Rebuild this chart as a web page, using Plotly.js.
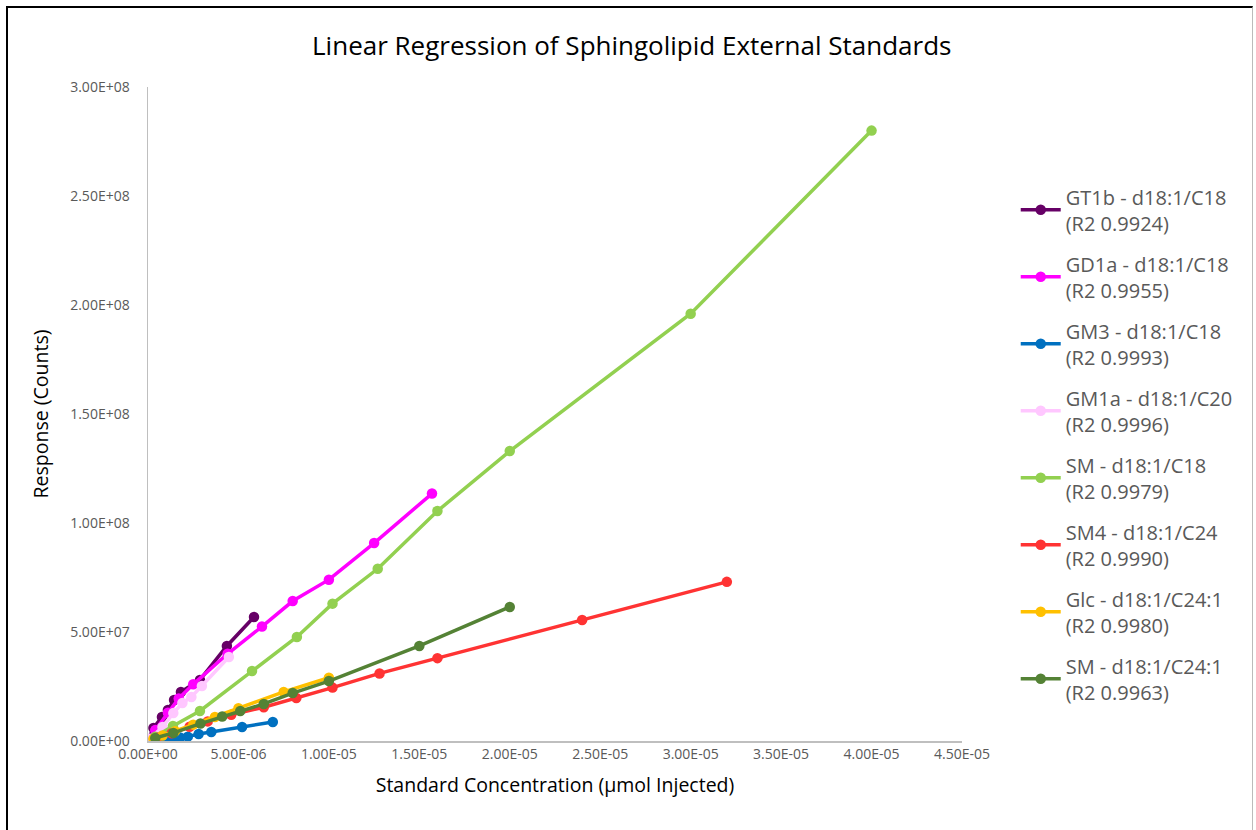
<!DOCTYPE html>
<html>
<head>
<meta charset="utf-8">
<script src="https://cdn.plot.ly/plotly-3.0.1.min.js"></script>
<style>
html,body{margin:0;padding:0;background:#fff;}
#chart{position:absolute;left:0;top:0;width:1256px;height:830px;}
#frame{position:absolute;left:6px;top:6px;width:1244px;height:840px;border:2px solid #000;border-right:1px solid #bbb;pointer-events:none;}
</style>
</head>
<body>
<div id="chart"></div>
<div id="frame"></div>
<script>
// Data
const seriesNames = [
  "GT1b - d18:1/C18<br>(R2 0.9924)",
  "GD1a - d18:1/C18<br>(R2 0.9955)",
  "GM3 - d18:1/C18<br>(R2 0.9993)",
  "GM1a - d18:1/C20<br>(R2 0.9996)",
  "SM - d18:1/C18<br>(R2 0.9979)",
  "SM4 - d18:1/C24<br>(R2 0.9990)",
  "Glc - d18:1/C24:1<br>(R2 0.9980)",
  "SM - d18:1/C24:1<br>(R2 0.9963)"
];
const seriesColors = ["#660066","#FF00FF","#0070C0","#FFC7FF","#92D050","#FF3333","#FFC000","#548235"];

const gt1bX = [0.0e-6, 0.3e-6, 0.77e-6, 1.1e-6, 1.44e-6, 1.82e-6, 2.87e-6, 4.36e-6, 5.86e-6];
const gt1bY = [0.5e6, 6.0e6, 11.0e6, 14.2e6, 18.8e6, 22.5e6, 28.0e6, 43.6e6, 56.9e6];

const gd1aX = [0.0e-6, 0.4e-6, 1.1e-6, 1.7e-6, 2.5e-6, 4.4e-6, 6.3e-6, 8.0e-6, 10.0e-6, 12.5e-6, 15.7e-6];
const gd1aY = [0.5e6, 5.0e6, 13.0e6, 19.5e6, 26.0e6, 40.0e6, 52.5e6, 64.2e6, 74.0e6, 90.8e6, 113.5e6];

const gm3X = [0.2e-6, 0.8e-6, 1.3e-6, 1.77e-6, 2.2e-6, 2.8e-6, 3.5e-6, 5.2e-6, 6.9e-6];
const gm3Y = [0.2e6, 0.5e6, 0.9e6, 1.6e6, 2.0e6, 3.2e6, 4.1e6, 6.4e6, 8.7e6];

const gm1aX = [0.1e-6, 0.8e-6, 1.4e-6, 1.9e-6, 2.4e-6, 2.98e-6, 4.47e-6];
const gm1aY = [1.0e6, 6.4e6, 12.8e6, 17.4e6, 20.2e6, 25.2e6, 38.5e6];

const smC18X = [0.4e-6, 1.38e-6, 2.87e-6, 5.75e-6, 8.23e-6, 10.2e-6, 12.7e-6, 16.0e-6, 20.0e-6, 30.0e-6, 40.0e-6];
const smC18Y = [2.0e6, 6.9e6, 13.8e6, 32.1e6, 47.7e6, 63.0e6, 79.0e6, 105.5e6, 133.0e6, 196.0e6, 280.0e6];

const sm4X = [0.5e-6, 1.3e-6, 2.3e-6, 3.3e-6, 4.6e-6, 6.4e-6, 8.2e-6, 10.2e-6, 12.8e-6, 16.0e-6, 24.0e-6, 32.0e-6];
const sm4Y = [1.5e6, 3.5e6, 6.5e6, 9.0e6, 12.0e6, 15.5e6, 19.7e6, 24.5e6, 31.0e6, 38.0e6, 55.5e6, 73.0e6];

const glcX = [0.3e-6, 0.8e-6, 1.5e-6, 2.5e-6, 3.7e-6, 5.0e-6, 7.5e-6, 10.0e-6];
const glcY = [1.0e6, 2.5e6, 4.5e6, 7.5e6, 11.0e6, 15.0e6, 22.5e6, 29.0e6];

const smC241X = [0.4e-6, 1.4e-6, 2.9e-6, 4.1e-6, 5.1e-6, 6.4e-6, 8.0e-6, 10.0e-6, 15.0e-6, 20.0e-6];
const smC241Y = [1.4e6, 3.7e6, 8.0e6, 11.2e6, 13.8e6, 17.0e6, 22.0e6, 27.5e6, 43.6e6, 61.5e6];

const xTickVals = [0, 5e-6, 1e-5, 1.5e-5, 2e-5, 2.5e-5, 3e-5, 3.5e-5, 4e-5, 4.5e-5];
const xTickText = ["0.00E+00","5.00E-06","1.00E-05","1.50E-05","2.00E-05","2.50E-05","3.00E-05","3.50E-05","4.00E-05","4.50E-05"];
const yTickVals = [0, 5e7, 1e8, 1.5e8, 2e8, 2.5e8, 3e8];
const yTickText = ["0.00E+00","5.00E+07","1.00E+08","1.50E+08","2.00E+08","2.50E+08","3.00E+08"];

const xs = [gt1bX, gd1aX, gm3X, gm1aX, smC18X, sm4X, glcX, smC241X];
const ys = [gt1bY, gd1aY, gm3Y, gm1aY, smC18Y, sm4Y, glcY, smC241Y];

const traces = seriesNames.map((name, i) => ({
  type: "scatter",
  mode: "lines+markers",
  name: name,
  legendgroup: "g" + i,
  x: xs[i],
  y: ys[i],
  line: {color: seriesColors[i], width: 3.5},
  marker: {color: seriesColors[i], size: 10.5}
}));

const FONT = "Open Sans, Lato, sans-serif";

const layout = {
  width: 1256,
  height: 830,
  paper_bgcolor: "#fff",
  plot_bgcolor: "#fff",
  margin: {l: 148, r: 294, t: 87, b: 89},
  title: {
    text: "Linear Regression of Sphingolipid External Standards",
    font: {family: FONT, size: 26, color: "#000"},
    x: 0.503, xanchor: "center",
    y: 0.945, yanchor: "middle"
  },
  xaxis: {
    range: [0, 4.5e-5],
    tickvals: xTickVals,
    ticktext: xTickText,
    showgrid: false,
    zeroline: false,
    showline: true,
    linecolor: "#BFBFBF",
    linewidth: 1.5,
    ticks: "",
    tickfont: {family: FONT, size: 14, color: "#595959"},
    title: {text: "Standard Concentration (µmol Injected)", font: {family: FONT, size: 19.5, color: "#000"}, standoff: 16}
  },
  yaxis: {
    range: [0, 3e8],
    tickvals: yTickVals,
    ticktext: yTickText,
    showgrid: false,
    zeroline: false,
    showline: true,
    linecolor: "#BFBFBF",
    linewidth: 1.5,
    ticks: "",
    ticklabelstandoff: 14,
    tickfont: {family: FONT, size: 14, color: "#595959"},
    title: {text: "Response (Counts)", font: {family: FONT, size: 19.5, color: "#000"}, standoff: 16}
  },
  showlegend: true,
  legend: {
    x: 1.066, xanchor: "left",
    y: 0.862, yanchor: "top",
    font: {family: FONT, size: 20, color: "#595959"},
    tracegroupgap: 12,
    itemwidth: 40,
    bgcolor: "rgba(0,0,0,0)"
  }
};

Plotly.newPlot("chart", traces, layout, {displayModeBar: false, staticPlot: true});
</script>
</body>
</html>
